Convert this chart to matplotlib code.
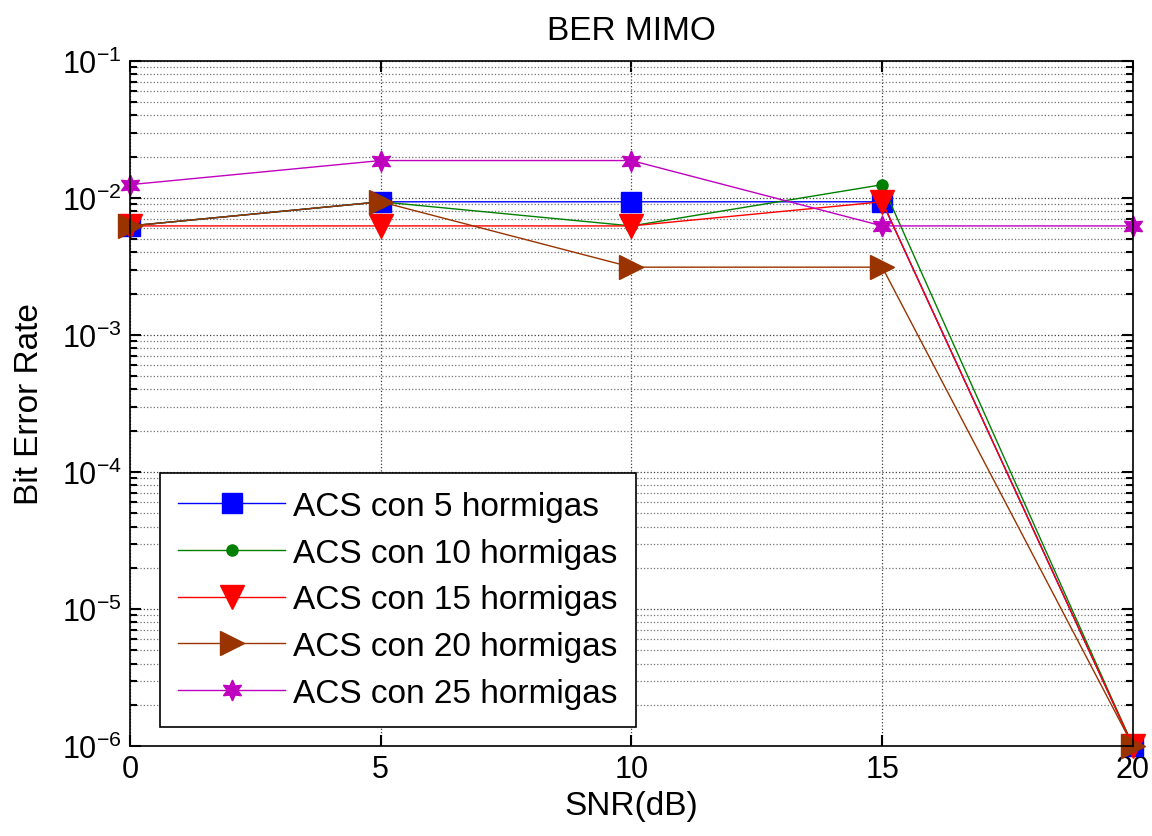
import matplotlib
matplotlib.use('Agg')
import matplotlib.pyplot as plt
import numpy as np

plt.rcParams['font.family'] = ['Liberation Sans', 'DejaVu Sans']
plt.rcParams['mathtext.fontset'] = 'custom'
plt.rcParams['mathtext.rm'] = 'Liberation Sans'

snr = [0, 5, 10, 15, 20]
ber_5 = [0.00625, 0.009375, 0.009375, 0.009375, 1e-6]
ber_10 = [0.00625, 0.009375, 0.00625, 0.0125, 1e-6]
ber_15 = [0.00625, 0.00625, 0.00625, 0.009375, 1e-6]
ber_20 = [0.00625, 0.009375, 0.003125, 0.003125, 1e-6]
ber_25 = [0.0125, 0.01875, 0.01875, 0.00625, 0.00625]
etiquetas = ['ACS con 5 hormigas', 'ACS con 10 hormigas', 'ACS con 15 hormigas',
             'ACS con 20 hormigas', 'ACS con 25 hormigas']

fig = plt.figure(figsize=(11.52, 8.37), dpi=100)
ax = fig.add_axes([0.1128, 0.1075, 0.8707, 0.8185])

estrella = (6, 1, 0)  # hexagrama
ax.semilogy(snr, ber_5, '-s', color='b', lw=1, ms=15, label=etiquetas[0], clip_on=False)
ax.semilogy(snr, ber_10, '-o', color=(0, 0.5, 0), lw=1, ms=8, label=etiquetas[1], clip_on=False)
ax.semilogy(snr, ber_15, '-v', color='r', lw=1, ms=17, label=etiquetas[2], clip_on=False)
ax.semilogy(snr, ber_20, '->', color=(0.6, 0.2, 0), lw=1, ms=17, label=etiquetas[3], clip_on=False)
ax.semilogy(snr, ber_25, '-', marker=estrella, color=(0.75, 0, 0.75), lw=1, ms=15,
            label=etiquetas[4], clip_on=False)

ax.set_xlim(0, 20)
ax.set_ylim(1e-6, 1e-1)
ax.set_xticks([0, 5, 10, 15, 20])
ax.yaxis.set_major_locator(matplotlib.ticker.LogLocator(base=10, numticks=10))
ax.yaxis.set_minor_locator(matplotlib.ticker.LogLocator(base=10, subs=np.arange(2, 10), numticks=20))
ax.yaxis.set_minor_formatter(matplotlib.ticker.NullFormatter())

ax.grid(True, which='major', linestyle=':', color='0.25', lw=0.9)
ax.grid(True, which='minor', axis='y', linestyle=':', color='0.45', lw=0.9)
ax.tick_params(which='both', direction='in', top=True, right=True, labelsize=22, width=1.5)
ax.tick_params(which='major', length=8, pad=6)
ax.tick_params(which='minor', length=5)
for s in ax.spines.values():
    s.set_linewidth(1.2)

ax.set_title('BER MIMO', fontsize=24, pad=16)
ax.set_xlabel('SNR(dB)', fontsize=24, labelpad=4)
ax.set_ylabel('Bit Error Rate', fontsize=24, labelpad=12)

leg = ax.legend(loc='lower left', bbox_to_anchor=(0.03, 0.028), fontsize=24,
                handlelength=3.2, fancybox=False, framealpha=1, edgecolor='k',
                borderaxespad=0, labelspacing=0.47, handletextpad=0.25,
                borderpad=0.55)
leg.get_frame().set_linewidth(1.2)
leg.set_zorder(5)

fig.savefig('out.png', dpi=100)
